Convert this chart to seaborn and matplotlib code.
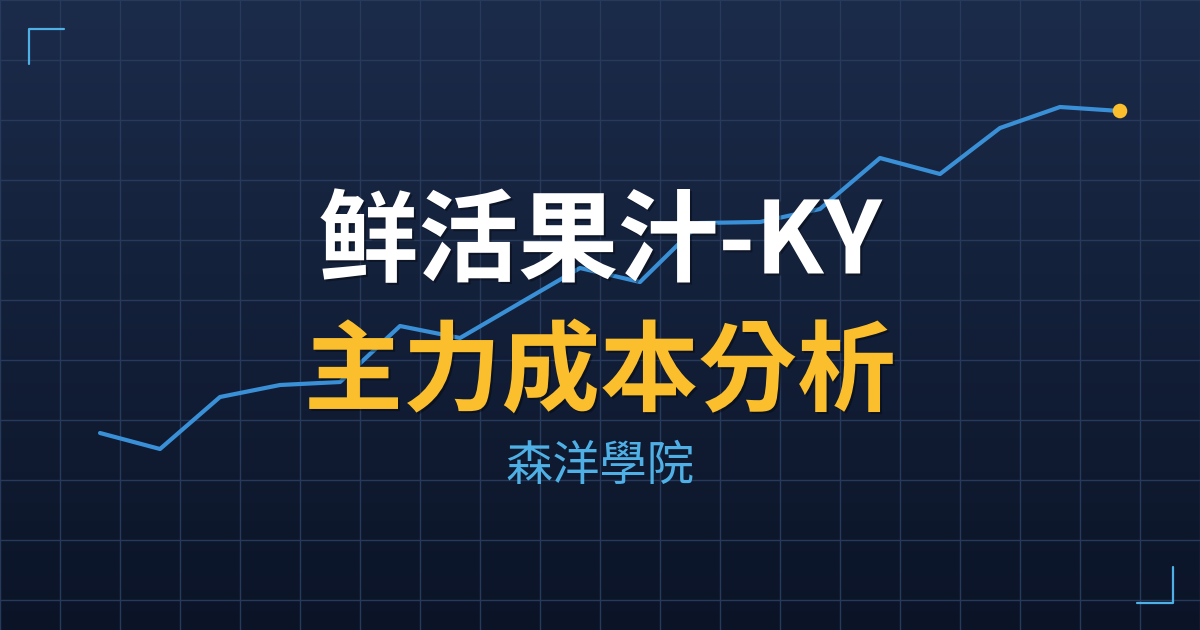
import numpy as np
import pandas as pd
import matplotlib
matplotlib.use('Agg')
import matplotlib.pyplot as plt
import matplotlib.patheffects as pe
import seaborn as sns

# 走势数据（18个交易日，数值取自原图）
sessions = list(range(1, 19))
prices = [197, 181, 233, 245, 248, 304, 292, 327, 362, 348, 407, 408, 421, 472, 456, 502, 523, 519]

title_main = '鲜活果汁-KY'
title_sub = '主力成本分析'
brand = '森洋學院'

# 配色
bg_top = '#1b2b4a'
bg_bottom = '#0b1427'
grid_color = '#283a5c'
line_color = '#3a90d6'
dot_color = '#fbbf2d'
brand_color = '#4fb0e6'

sns.set_theme(style='dark')
plt.rcParams['font.family'] = ['Noto Sans CJK TC', 'DejaVu Sans']

df = pd.DataFrame({'session': sessions, 'price': prices})

fig = plt.figure(figsize=(12, 6.3), dpi=100)
ax = fig.add_axes([0, 0, 1, 1])

# 坐标范围: 每格60像素
x0, x1 = -40 / 60, 1160 / 60
ax.set_xlim(x0, x1)
ax.set_ylim(0, 630)

# 渐变背景
grad = np.linspace(0, 1, 256).reshape(-1, 1)
cmap = matplotlib.colors.LinearSegmentedColormap.from_list('bg', [bg_top, bg_bottom])
ax.imshow(grad, aspect='auto', cmap=cmap, extent=[x0, x1, 0, 630], origin='upper', zorder=0)

# 网格
for k in range(0, 21):
    ax.axvline(k - 2 / 3, color=grid_color, lw=1, zorder=1)
for k in range(0, 11):
    ax.axhline(630 - 60 * k, color=grid_color, lw=1, zorder=1)

sns.lineplot(data=df, x='session', y='price', color=line_color, lw=3, ax=ax, zorder=2)
ax.scatter(df['session'].iloc[-1], df['price'].iloc[-1], s=110, color=dot_color, zorder=3, edgecolor='none')

ax.set_axis_off()

# 角标
fig.add_artist(plt.Line2D([29 / 1200, 29 / 1200, 64 / 1200], [1 - 64 / 630, 1 - 29 / 630, 1 - 29 / 630],
                          color=brand_color, lw=1.6, transform=fig.transFigure))
fig.add_artist(plt.Line2D([1137 / 1200, 1173 / 1200, 1173 / 1200], [1 - 603 / 630, 1 - 603 / 630, 1 - 567 / 630],
                          color=brand_color, lw=1.6, transform=fig.transFigure))

# 标题
shadow = [pe.SimplePatchShadow(offset=(1.5, -1.5), shadow_rgbFace='black', alpha=0.35), pe.Normal()]
fig.text(0.5, 1 - 244 / 630, title_main, color='white', fontsize=72, fontweight='bold',
         ha='center', va='center', path_effects=shadow)
fig.text(0.5, 1 - 374 / 630, title_sub, color=dot_color, fontsize=71, fontweight='bold',
         ha='center', va='center', path_effects=shadow)
fig.text(0.5, 1 - 467 / 630, brand, color=brand_color, fontsize=34,
         ha='center', va='center')

fig.savefig('out.png', dpi=100)
